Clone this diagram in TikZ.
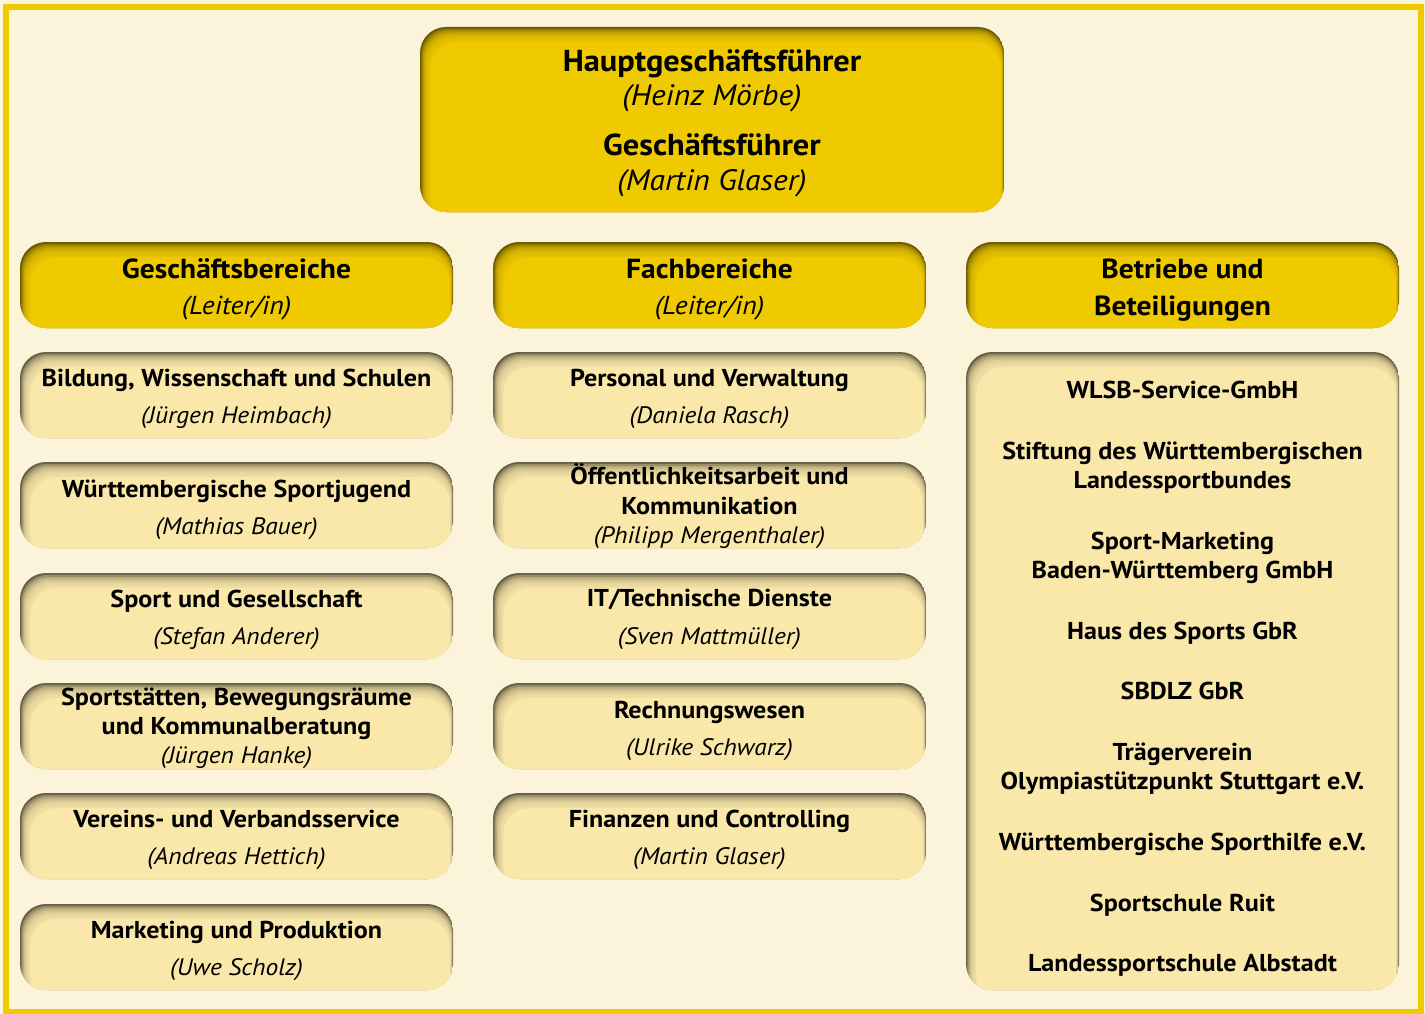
\documentclass[tikz,border=0pt]{standalone}
\usepackage{fontspec}
\setmainfont{PT Sans}[FakeStretch=1.07]
\usetikzlibrary{calc}
\definecolor{bg}{HTML}{FBF4DA}
\definecolor{gold}{HTML}{F0CA00}
\definecolor{pale}{HTML}{FAE8AA}
\tikzset{
  insetshade/.style n args={3}{%
    rounded corners=#3,
    path picture={
      \fill[#2] (path picture bounding box.south west) rectangle (path picture bounding box.north east);
      \foreach \i in {1,...,7}{
        \fill[#1, opacity=0.33, rounded corners=#3]
          ($(path picture bounding box.north west)+(1.3*\i,1.9*\i)$) rectangle
          ($(path picture bounding box.south east)+(-0.4*\i,12)$);
      }
      \fill[#1, rounded corners=#3]
          ($(path picture bounding box.north west)+(10.4,15.2)$) rectangle
          ($(path picture bounding box.south east)+(-3.2,12)$);
    }
  },
  goldbox/.style={inner sep=0pt, insetshade={gold}{gold!45!black}{26pt}},
  palebox/.style={inner sep=0pt, insetshade={pale}{pale!42!black}{26pt}},
  colbox/.style={minimum width=433pt, minimum height=86pt},
  tb/.style={anchor=base, font=\bfseries\fontsize{24.4}{28}\selectfont, inner sep=0pt},
  ti/.style={anchor=base, font=\itshape\fontsize{23.8}{28}\selectfont, inner sep=0pt},
  hb/.style={anchor=base, font=\bfseries\fontsize{27.6}{31}\selectfont, inner sep=0pt},
  hi/.style={anchor=base, font=\itshape\fontsize{26}{30}\selectfont, inner sep=0pt},
  topb/.style={anchor=base, font=\bfseries\fontsize{30.3}{34}\selectfont, inner sep=0pt},
  topi/.style={anchor=base, font=\itshape\fontsize{29.5}{34}\selectfont, inner sep=0pt},
}
\begin{document}
\begin{tikzpicture}[x=1pt,y=-1pt]
\useasboundingbox (0,0) rectangle (1425,1014);
\fill[bg] (0,0) rectangle (1425,1014);
\draw[gold, line width=6pt] (5.5,7.5) rectangle (1421,1012);

% top box
\node[goldbox, minimum width=584pt, minimum height=185pt] (top) at (712,119.5) {};
\node[topb] (t1) at (712,72) {Hauptgeschäftsführer};
\node[topi] (t2) at (712,106) {(Heinz Mörbe)};
\node[topb] (t3) at (712,156) {Geschäftsführer};
\node[topi] (t4) at (712,190) {(Martin Glaser)};

% header boxes
\node[goldbox, colbox] (h1) at (236.5,285) {};
\node[goldbox, colbox] (h2) at (709.5,285) {};
\node[goldbox, colbox] (h3) at (1182.5,285) {};
\node[hb] (h1a) at (236.5,278) {Geschäftsbereiche};
\node[hi] (h1b) at (236.5,314) {(Leiter/in)};
\node[hb] (h2a) at (709.5,278) {Fachbereiche};
\node[hi] (h2b) at (709.5,314) {(Leiter/in)};
\node[hb] (h3a) at (1182.5,278) {Betriebe und};
\node[hb] (h3b) at (1182.5,315) {Beteiligungen};

% column 1
\foreach \n/\y in {a1/395,a2/505,a3/616,a4/726,a5/836,a6/947}{
  \node[palebox, colbox] (\n) at (236.5,\y) {};
}
\node[tb] (a1t) at (236.5,386) {Bildung, Wissenschaft und Schulen};
\node[ti] (a1n) at (236.5,423) {(Jürgen Heimbach)};
\node[tb] (a2t) at (236.5,497) {Württembergische Sportjugend};
\node[ti] (a2n) at (236.5,534) {(Mathias Bauer)};
\node[tb] (a3t) at (236.5,607) {Sport und Gesellschaft};
\node[ti] (a3n) at (236.5,644) {(Stefan Anderer)};
\node[tb] (a4t) at (236.5,705) {Sportstätten, Bewegungsräume};
\node[tb] (a4u) at (236.5,734) {und Kommunalberatung};
\node[ti] (a4n) at (236.5,763) {(Jürgen Hanke)};
\node[tb] (a5t) at (236.5,827) {Vereins- und Verbandsservice};
\node[ti] (a5n) at (236.5,864) {(Andreas Hettich)};
\node[tb] (a6t) at (236.5,938) {Marketing und Produktion};
\node[ti] (a6n) at (236.5,975) {(Uwe Scholz)};

% column 2
\foreach \n/\y in {b1/395,b2/505,b3/616,b4/726,b5/836}{
  \node[palebox, colbox] (\n) at (709.5,\y) {};
}
\node[tb] (b1t) at (709.5,386) {Personal und Verwaltung};
\node[ti] (b1n) at (709.5,423) {(Daniela Rasch)};
\node[tb] (b2t) at (709.5,484) {Öffentlichkeitsarbeit und};
\node[tb] (b2u) at (709.5,514) {Kommunikation};
\node[ti] (b2n) at (709.5,543) {(Philipp Mergenthaler)};
\node[tb] (b3t) at (709.5,606) {IT/Technische Dienste};
\node[ti] (b3n) at (709.5,644) {(Sven Mattmüller)};
\node[tb] (b4t) at (709.5,718) {Rechnungswesen};
\node[ti] (b4n) at (709.5,755) {(Ulrike Schwarz)};
\node[tb] (b5t) at (709.5,827) {Finanzen und Controlling};
\node[ti] (b5n) at (709.5,864) {(Martin Glaser)};

% column 3
\node[palebox, minimum width=433pt, minimum height=638pt] (c) at (1182.5,671) {};
\node[tb] (c1) at (1182.5,398) {WLSB-Service-GmbH};
\node[tb] (c2) at (1182.5,459) {Stiftung des Württembergischen};
\node[tb] (c2b) at (1182.5,488) {Landessportbundes};
\node[tb] (c3) at (1182.5,549) {Sport-Marketing};
\node[tb] (c3b) at (1182.5,578) {Baden-Württemberg GmbH};
\node[tb] (c4) at (1182.5,639) {Haus des Sports GbR};
\node[tb] (c5) at (1182.5,699) {SBDLZ GbR};
\node[tb] (c6) at (1182.5,760) {Trägerverein};
\node[tb] (c6b) at (1182.5,789) {Olympiastützpunkt Stuttgart e.V.};
\node[tb] (c7) at (1182.5,850) {Württembergische Sporthilfe e.V.};
\node[tb] (c8) at (1182.5,911) {Sportschule Ruit};
\node[tb] (c9) at (1182.5,971) {Landessportschule Albstadt};
\end{tikzpicture}
\end{document}
